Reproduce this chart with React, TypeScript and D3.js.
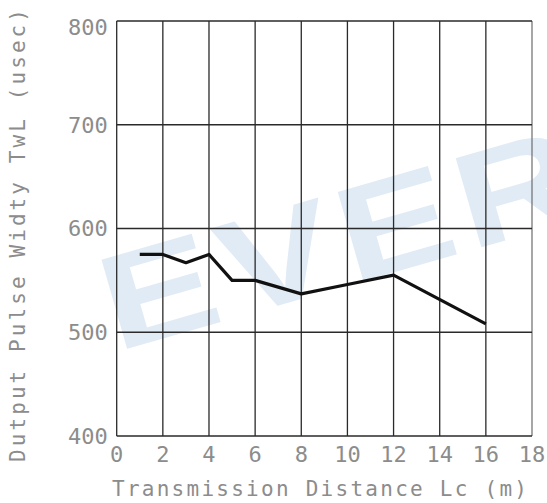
import * as d3 from "d3";
import { useEffect, useRef } from "react";

// transmission distance (m) vs output pulse width (usec)
const distance = [1, 2, 3, 4, 5, 6, 8, 10, 12, 16];
const pulseWidth = [575, 575, 567, 575, 550, 550, 537, 546, 555, 508];

const xTicks = [0, 2, 4, 6, 8, 10, 12, 14, 16, 18];
const yTicks = [400, 500, 600, 700, 800];

const xTitle = "Transmission Distance Lc (m)";
const yTitle = "Dutput Pulse Widty TwL (usec)";
const watermark = "EVER";

const App = () => {
  const svgRef = useRef<SVGSVGElement | null>(null);
  const w = 547;
  const h = 503;
  const m = { top: 21, right: 15, bottom: 67, left: 116.7 };
  const innerW = w - m.left - m.right;
  const innerH = h - m.top - m.bottom;

  useEffect(() => {
    if (!svgRef.current) return;
    const svg = d3.select(svgRef.current)
      .attr("width", w)
      .attr("height", h)
      .style("background", "#fff");
    svg.selectAll("*").remove();

    const x = d3.scaleLinear().domain([0, 18]).range([0, innerW]);
    const y = d3.scaleLinear().domain([400, 800]).range([innerH, 0]);

    // watermark behind everything
    svg.append("text")
      .attr("transform", "translate(116,352) rotate(-16) scale(1.22,0.95)")
      .attr("font-family", "Liberation Sans, Arial, sans-serif")
      .attr("font-weight", "bold")
      .attr("font-size", 142)
      .attr("letter-spacing", 6)
      .attr("fill", "#e0ebf5")
      .text(watermark);

    const g = svg.append("g")
      .attr("transform", `translate(${m.left},${m.top})`);

    const gridColor = "#2a2a2a";
    g.selectAll("line.vx")
      .data(xTicks)
      .enter().append("line")
      .attr("x1", d => x(d)).attr("x2", d => x(d))
      .attr("y1", 0).attr("y2", innerH)
      .attr("stroke", d => d === 18 ? "#777" : gridColor)
      .attr("stroke-width", 1.3);

    g.selectAll("line.hy")
      .data(yTicks)
      .enter().append("line")
      .attr("x1", 0).attr("x2", innerW)
      .attr("y1", d => y(d)).attr("y2", d => y(d))
      .attr("stroke", gridColor)
      .attr("stroke-width", 1.3);

    const line = d3.line<number>()
      .x((_, i) => x(distance[i]))
      .y(d => y(d));

    g.append("path")
      .datum(pulseWidth)
      .attr("d", line)
      .attr("fill", "none")
      .attr("stroke", "#111")
      .attr("stroke-width", 3.2)
      .attr("stroke-linejoin", "round");

    const font = "DejaVu Sans Mono, monospace";
    const textColor = "#8c8c8c";

    g.selectAll("text.xt")
      .data(xTicks)
      .enter().append("text")
      .attr("x", d => x(d))
      .attr("y", innerH + 26)
      .attr("text-anchor", "middle")
      .attr("font-family", font)
      .attr("font-size", 22)
      .attr("fill", textColor)
      .text(d => d);

    g.selectAll("text.yt")
      .data(yTicks)
      .enter().append("text")
      .attr("x", -9)
      .attr("y", d => Math.max(y(d), 6))
      .attr("dy", "0.36em")
      .attr("text-anchor", "end")
      .attr("font-family", font)
      .attr("font-size", 22)
      .attr("fill", textColor)
      .text(d => d);

    svg.append("text")
      .attr("x", 112)
      .attr("y", 496)
      .attr("font-family", font)
      .attr("font-size", 21)
      .attr("textLength", 415)
      .attr("lengthAdjust", "spacing")
      .attr("fill", textColor)
      .text(xTitle);

    svg.append("text")
      .attr("transform", "translate(25,462) rotate(-90)")
      .attr("font-family", font)
      .attr("font-size", 21)
      .attr("textLength", 453)
      .attr("lengthAdjust", "spacing")
      .attr("fill", textColor)
      .text(yTitle);
  }, []);

  return (
    <svg ref={svgRef} style={{ position: "absolute", left: 0, top: 0 }}></svg>
  );
};

export default App;
